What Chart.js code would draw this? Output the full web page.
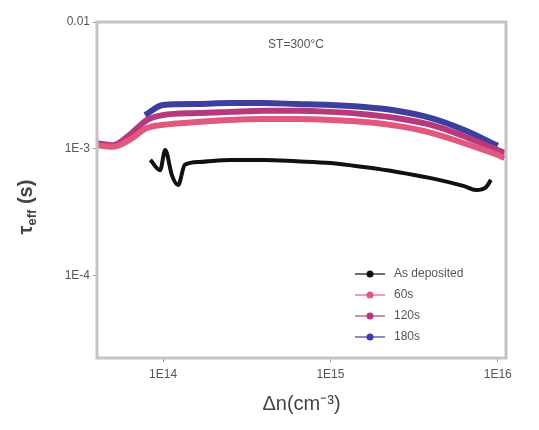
<!DOCTYPE html>
<html>
<head>
<meta charset="utf-8">
<script src="https://cdn.jsdelivr.net/npm/chart.js@4.4.1/dist/chart.umd.min.js"></script>
<style>
  html, body { margin: 0; padding: 0; background: #fff; }
  #wrap { width: 539px; height: 430px; }
</style>
</head>
<body>
<div id="wrap"><canvas id="myChart"></canvas></div>
<script>
// data (log-log)
const labels = ["As deposited", "60s", "120s", "180s"];
const colors = ["#111111", "#e0587e", "#b8387e", "#3e3e9e"];

const dnAsDep = [8.4e13, 9.6e13, 1.03e14, 1.13e14, 1.23e14, 1.35e14, 1.66e14, 2.52e14, 3.98e14, 6.3e14, 1e15, 1.58e15, 2.5e15, 3.98e15, 6.3e15, 7.4e15, 8.5e15, 9.1e15];
const tauAsDep = [8.2e-4, 6.8e-4, 9.8e-4, 6.2e-4, 5.2e-4, 7.5e-4, 7.9e-4, 8.2e-4, 8.2e-4, 8.0e-4, 7.75e-4, 7.2e-4, 6.6e-4, 5.9e-4, 5.1e-4, 4.75e-4, 5.0e-4, 5.7e-4];

const dn60 = [4.0e13, 5e13, 6.3e13, 8e13, 1e14, 1.6e14, 2.5e14, 4e14, 6.3e14, 1e15, 1.6e15, 2.5e15, 4e15, 6.3e15, 1e16, 1.1e16];
const tau60 = [1.07e-3, 1.04e-3, 1.18e-3, 1.46e-3, 1.55e-3, 1.63e-3, 1.69e-3, 1.72e-3, 1.72e-3, 1.69e-3, 1.63e-3, 1.52e-3, 1.34e-3, 1.11e-3, 8.97e-4, 8.5e-4];

const dn120 = [4.0e13, 5e13, 6.3e13, 8e13, 1e14, 1.6e14, 2.5e14, 4e14, 6.3e14, 1e15, 1.6e15, 2.5e15, 4e15, 6.3e15, 1e16, 1.1e16];
const tau120 = [1.11e-3, 1.07e-3, 1.29e-3, 1.69e-3, 1.85e-3, 1.92e-3, 1.96e-3, 2.0e-3, 2.0e-3, 1.96e-3, 1.88e-3, 1.75e-3, 1.55e-3, 1.26e-3, 9.8e-4, 9.3e-4];

const dn180 = [7.8e13, 1e14, 1.6e14, 2.5e14, 4e14, 6.3e14, 1e15, 1.6e15, 2.5e15, 4e15, 6.3e15, 1e16];
const tau180 = [1.85e-3, 2.22e-3, 2.26e-3, 2.3e-3, 2.3e-3, 2.26e-3, 2.22e-3, 2.14e-3, 2.0e-3, 1.75e-3, 1.41e-3, 1.06e-3];

const xTicks = [1e14, 1e15, 1e16];
const xTickText = ["1E14", "1E15", "1E16"];
const yTicks = [1e-4, 1e-3, 1e-2];
const yTickText = ["1E-4", "1E-3", "0.01"];

function pts(xs, ys) {
  return xs.map((x, i) => ({x: x, y: ys[i]}));
}

const series = [pts(dnAsDep, tauAsDep), pts(dn60, tau60), pts(dn120, tau120), pts(dn180, tau180)];

// frame, annotation, y title, legend
const extras = {
  id: 'extras',
  afterDraw(chart) {
    const c = chart.ctx;
    const a = chart.chartArea;
    c.save();
    c.strokeStyle = '#c4c4c4';
    c.lineWidth = 3;
    c.strokeRect(a.left, a.top, a.right - a.left, a.bottom - a.top);

    c.fillStyle = '#555';
    c.font = '12px "Liberation Sans", Arial, sans-serif';
    c.textAlign = 'center';
    c.textBaseline = 'middle';
    c.fillText('ST=300°C', 296, 45);

    // y title with subscript
    c.save();
    c.translate(26, 207);
    c.rotate(-Math.PI / 2);
    c.fillStyle = '#444';
    c.textAlign = 'left';
    c.font = 'bold 20px "Liberation Sans", Arial, sans-serif';
    const w1 = c.measureText('τ').width;
    c.font = 'bold 13px "Liberation Sans", Arial, sans-serif';
    const w2 = c.measureText('eff').width;
    c.font = 'bold 20px "Liberation Sans", Arial, sans-serif';
    const w3 = c.measureText(' (s)').width;
    let x0 = -(w1 + w2 + w3) / 2;
    c.fillText('τ', x0, 0);
    c.font = 'bold 13px "Liberation Sans", Arial, sans-serif';
    c.fillText('eff', x0 + w1, 6);
    c.font = 'bold 20px "Liberation Sans", Arial, sans-serif';
    c.fillText(' (s)', x0 + w1 + w2, 0);
    c.restore();

    // legend
    chart.data.datasets.forEach((ds, i) => {
      const y = 274 + i * 21;
      c.strokeStyle = ds.borderColor;
      c.globalAlpha = 0.6;
      c.lineWidth = 2;
      c.beginPath();
      c.moveTo(355, y);
      c.lineTo(385, y);
      c.stroke();
      c.globalAlpha = 1;
      c.fillStyle = ds.borderColor;
      c.beginPath();
      c.arc(370, y, 3.5, 0, Math.PI * 2);
      c.fill();
      c.fillStyle = '#555';
      c.font = '12px "Liberation Sans", Arial, sans-serif';
      c.textAlign = 'left';
      c.fillText(ds.label, 394, y);
    });
    c.restore();
  }
};

new Chart(document.getElementById('myChart'), {
  type: 'line',
  data: {
    datasets: series.map((d, i) => ({
      label: labels[i],
      data: d,
      borderColor: colors[i],
      backgroundColor: colors[i],
      borderWidth: i == 0 ? 4 : 6,
      pointRadius: 0,
      tension: 0.4,
      cubicInterpolationMode: 'monotone',
      fill: false
    }))
  },
  options: {
    responsive: true,
    maintainAspectRatio: false,
    animation: false,
    layout: { padding: { top: 22, right: 33, left: 0, bottom: 0 } },
    plugins: {
      legend: { display: false },
      tooltip: { enabled: false }
    },
    scales: {
      x: {
        type: 'logarithmic',
        min: 4.03e13,
        max: 1.12e16,
        afterBuildTicks: s => { s.ticks = xTicks.map(v => ({value: v})); },
        afterFit: s => { s.height = 72; },
        grid: { display: true, drawOnChartArea: false, tickLength: 4, color: '#999' },
        border: { display: false },
        ticks: {
          padding: 5,
          color: '#555',
          font: { size: 12, family: '"Liberation Sans", Arial, sans-serif' },
          autoSkip: false,
          maxRotation: 0,
          callback: (v) => xTickText[xTicks.indexOf(v)]
        },
        title: {
          display: true,
          text: 'Δn(cm⁻³)',
          color: '#444',
          font: { size: 20, family: '"Liberation Sans", Arial, sans-serif' },
          padding: { top: 0, bottom: 14 }
        }
      },
      y: {
        type: 'logarithmic',
        min: 2.26e-5,
        max: 0.01,
        afterBuildTicks: s => { s.ticks = yTicks.map(v => ({value: v})); },
        afterFit: s => { s.width = 97; },
        grid: { display: true, drawOnChartArea: false, tickLength: 4, color: '#999' },
        border: { display: false },
        ticks: {
          padding: 3,
          color: '#555',
          font: { size: 12, family: '"Liberation Sans", Arial, sans-serif' },
          autoSkip: false,
          callback: (v) => yTickText[yTicks.indexOf(v)]
        }
      }
    }
  },
  plugins: [extras]
});
</script>
</body>
</html>
